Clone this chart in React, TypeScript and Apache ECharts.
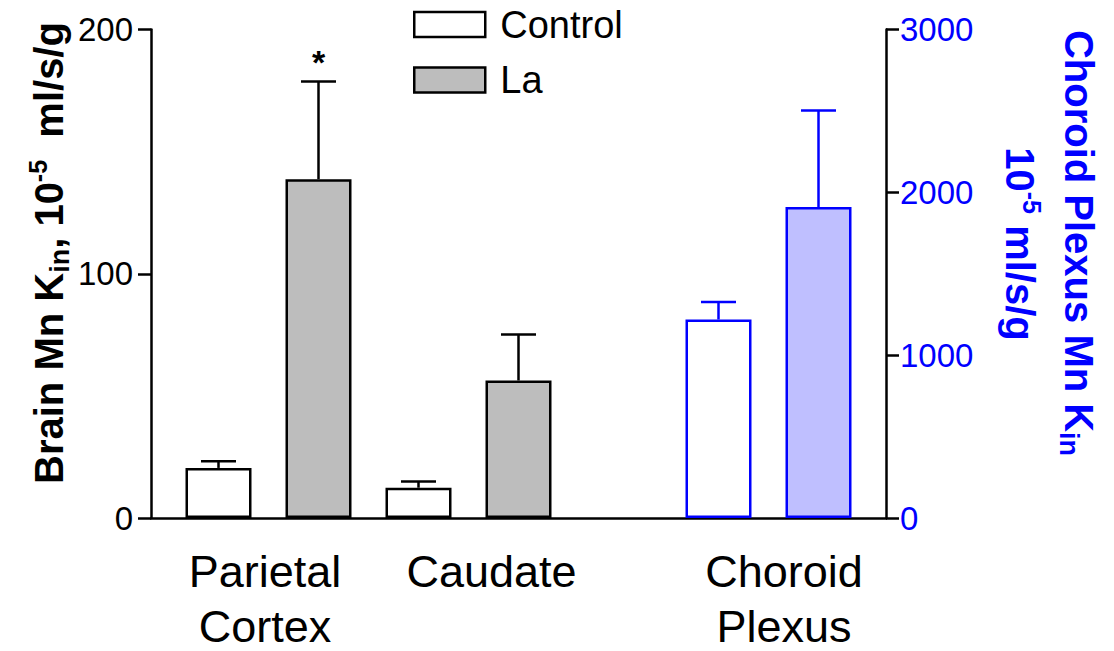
import React, { useEffect, useRef } from "react";
import * as echarts from "echarts";

// ---- data ----
const slots = [0, 1, 2, 3, 4, 5, 6]; // bar slot positions along x
const controlX = [0, 2];
const controlMean = [20.5, 12.4];
const controlTop = [23.2, 14.9];
const laX = [1, 3];
const laMean = [138.7, 56.3];
const laTop = [178.7, 75.1];
const cpControlX = [5];
const cpControlMean = [1219];
const cpControlTop = [1327];
const cpLaX = [6];
const cpLaMean = [1910];
const cpLaTop = [2503];
const categoryLine1 = ["Parietal", "Caudate", "Choroid"];
const categoryLine2 = ["Cortex", "", "Plexus"];
const categoryLabelX = [0.465, 2.73, 5.655];
const leftTicks = { min: 0, max: 200, interval: 100 };
const rightTicks = { min: 0, max: 3000, interval: 1000 };
const starX = [1];
const starAt = [178.7];

const FONT = "'Liberation Sans', Arial, sans-serif";
const BLUE = "#0000ff";

const richFor = (fill: string) => ({
  b: { fontSize: 40, fontWeight: "bold", fontFamily: FONT, fill, lineHeight: 48, verticalAlign: "middle" },
  s: { fontSize: 27, fontWeight: "bold", fontFamily: FONT, fill, lineHeight: 27, verticalAlign: "bottom" },
  p: { fontSize: 25, fontWeight: "bold", fontFamily: FONT, fill, lineHeight: 25, verticalAlign: "top" },
});

export default function App() {
  const ref = useRef<HTMLDivElement>(null);
  useEffect(() => {
    if (!ref.current) return;
    const chart = echarts.init(ref.current, null, { renderer: "svg" });

    const errRender = (color: string) => (params: any, api: any) => {
      const x = api.value(0);
      const m = api.value(1);
      const t = api.value(2);
      const p1 = api.coord([x, m]);
      const p2 = api.coord([x, t]);
      const half = 17.5;
      const style = { stroke: color, lineWidth: 2.5 };
      return {
        type: "group",
        children: [
          { type: "line", shape: { x1: p1[0], y1: p1[1], x2: p2[0], y2: p2[1] }, style },
          { type: "line", shape: { x1: p2[0] - half, y1: p2[1], x2: p2[0] + half, y2: p2[1] }, style },
        ],
      };
    };

    const barCommon = { type: "bar", barWidth: 66, barGap: "-100%", xAxisIndex: 0 };

    const labelSeries = (names: string[], distance: number) => ({
      type: "scatter",
      yAxisIndex: 0,
      silent: true,
      clip: false,
      symbolSize: 1,
      itemStyle: { color: "transparent", opacity: 1 },
      data: names.map((n, i) => ({ name: n, value: [categoryLabelX[i], 0] })),
      label: {
        show: true,
        formatter: (p: any) => p.name,
        position: "bottom",
        distance,
        fontSize: 45,
        lineHeight: 44,
        align: "center",
        color: "#000",
        opacity: 1,
        fontFamily: FONT,
      },
    });

    chart.setOption({
      animation: false,
      textStyle: { fontFamily: FONT },
      grid: { left: 151, right: 228, top: 29.5, bottom: 133 },
      legend: {
        data: ["Control", "La"],
        orient: "vertical",
        left: 413,
        top: 5.5,
        padding: 0,
        icon: "rect",
        itemWidth: 71,
        itemHeight: 25,
        itemGap: 17.5,
        itemStyle: { borderWidth: 2.5 },
        textStyle: { fontFamily: FONT, fontSize: 38, lineHeight: 38, color: "#000", padding: [0, 0, 0, 10] },
        selectedMode: false,
      },
      xAxis: {
        type: "value",
        min: slots[0] - 0.675,
        max: slots[slots.length - 1] + 0.675,
        axisLine: { show: true, onZero: false, lineStyle: { color: "#000", width: 2.5 } },
        axisTick: { show: false },
        axisLabel: { show: false },
        splitLine: { show: false },
      },
      yAxis: [
        {
          type: "value",
          position: "left",
          ...leftTicks,
          axisLine: { show: true, onZero: false, lineStyle: { color: "#000", width: 2.5 } },
          axisTick: { show: true, length: 13, lineStyle: { color: "#000", width: 2.5 } },
          axisLabel: { fontSize: 33, color: "#000", margin: 18, fontFamily: FONT },
          splitLine: { show: false },
        },
        {
          type: "value",
          position: "right",
          ...rightTicks,
          axisLine: { show: true, onZero: false, lineStyle: { color: "#000", width: 2.5 } },
          axisTick: { show: true, length: 13, lineStyle: { color: "#000", width: 2.5 } },
          axisLabel: { fontSize: 33, color: BLUE, margin: 14, fontFamily: FONT, formatter: (v: number) => String(v) },
          splitLine: { show: false },
        },
      ],
      series: [
        {
          ...barCommon,
          name: "Control",
          yAxisIndex: 0,
          data: controlX.map((x, i) => [x, controlMean[i]]),
          itemStyle: { color: "#ffffff", borderColor: "#000", borderWidth: 2.5 },
        },
        {
          ...barCommon,
          name: "La",
          yAxisIndex: 0,
          data: laX.map((x, i) => [x, laMean[i]]),
          itemStyle: { color: "#bdbdbd", borderColor: "#000", borderWidth: 2.5 },
        },
        {
          ...barCommon,
          name: "CP Control",
          yAxisIndex: 1,
          data: cpControlX.map((x, i) => [x, cpControlMean[i]]),
          itemStyle: { color: "#ffffff", borderColor: BLUE, borderWidth: 2.5 },
        },
        {
          ...barCommon,
          name: "CP La",
          yAxisIndex: 1,
          data: cpLaX.map((x, i) => [x, cpLaMean[i]]),
          itemStyle: { color: "#bfbfff", borderColor: BLUE, borderWidth: 2.5 },
        },
        {
          type: "custom",
          name: "err-left",
          yAxisIndex: 0,
          clip: false,
          z: 5,
          encode: { x: 0, y: [1, 2] },
          renderItem: errRender("#000"),
          data: [
            ...controlX.map((x, i) => [x, controlMean[i], controlTop[i]]),
            ...laX.map((x, i) => [x, laMean[i], laTop[i]]),
          ],
        },
        {
          type: "custom",
          name: "err-right",
          yAxisIndex: 1,
          clip: false,
          z: 5,
          encode: { x: 0, y: [1, 2] },
          renderItem: errRender(BLUE),
          data: [
            ...cpControlX.map((x, i) => [x, cpControlMean[i], cpControlTop[i]]),
            ...cpLaX.map((x, i) => [x, cpLaMean[i], cpLaTop[i]]),
          ],
        },
        {
          type: "scatter",
          name: "star",
          yAxisIndex: 0,
          silent: true,
          symbolSize: 1,
          itemStyle: { color: "transparent", opacity: 1 },
          data: starX.map((x, i) => [x, starAt[i]]),
          label: {
            show: true,
            formatter: "*",
            position: "top",
            distance: 2,
            fontSize: 34,
            fontWeight: "bold",
            color: "#000",
            opacity: 1,
            fontFamily: FONT,
          },
        },
        { ...labelSeries(categoryLine1, 31), name: "cat-line1" },
        { ...labelSeries(categoryLine2, 86), name: "cat-line2" },
      ],
      graphic: [
        {
          type: "text",
          x: 49,
          y: 253,
          rotation: Math.PI / 2,
          style: {
            text: "{b|Brain Mn K}{s|in}{b|, 10}{p|-5}{b|  ml/s/g}",
            align: "center",
            verticalAlign: "middle",
            fill: "#000",
            rich: richFor("#000"),
          },
        },
        {
          type: "text",
          x: 1079,
          y: 243,
          rotation: -Math.PI / 2,
          style: {
            text: "{b|Choroid Plexus Mn K}{s|in}",
            align: "center",
            verticalAlign: "middle",
            fill: BLUE,
            rich: richFor(BLUE),
          },
        },
        {
          type: "text",
          x: 1020,
          y: 244,
          rotation: -Math.PI / 2,
          style: {
            text: "{b|10}{p|-5}{b| ml/s/g}",
            align: "center",
            verticalAlign: "middle",
            fill: BLUE,
            rich: richFor(BLUE),
          },
        },
      ],
    });
    return () => chart.dispose();
  }, []);
  return (
    <div
      ref={ref}
      style={{ position: "fixed", left: 0, top: 0, width: 1114, height: 651, background: "#fff" }}
    />
  );
}
